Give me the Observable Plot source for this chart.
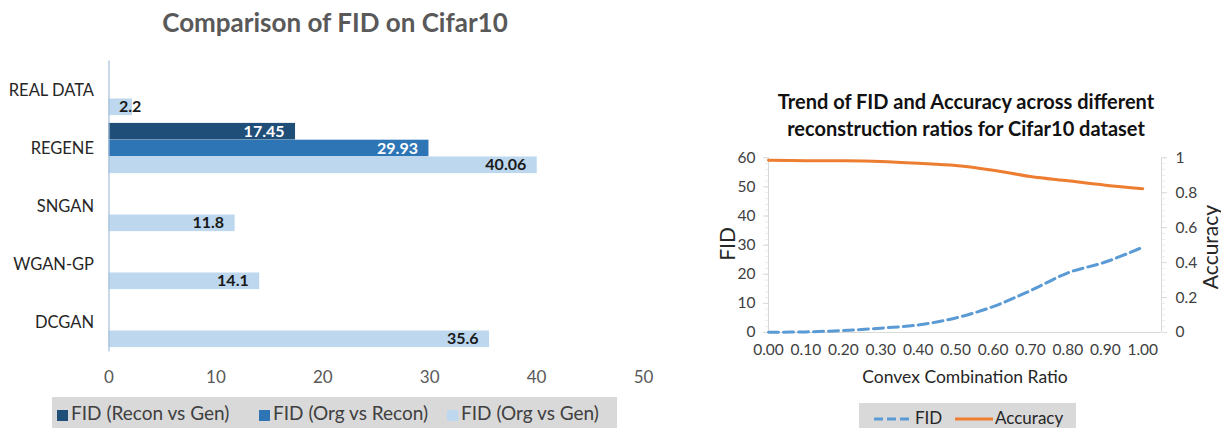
<!DOCTYPE html>
<html><head><meta charset="utf-8">
<script src="https://cdn.jsdelivr.net/npm/d3@7"></script>
<script src="https://cdn.jsdelivr.net/npm/@observablehq/plot@0.6"></script>
<style>
body{margin:0;width:1221px;height:428px;overflow:hidden;background:#fff;font-family:Lato,"Open Sans",sans-serif;position:relative}
.abs{position:absolute;white-space:nowrap}
.sw{display:inline-block;width:11px;height:11px;margin-right:3px;vertical-align:-1px}
</style></head><body>
<div class="abs" style="left:0;width:670px;top:6px;line-height:32px;text-align:center;font-weight:bold;font-size:26px;color:#595959">Comparison of FID on Cifar10</div>
<div id="c1" class="abs" style="left:0;top:0"></div>
<div id="l1" class="abs" style="left:52px;top:397px;width:565px;height:40px;background:#d9d9d9;font-size:19px;color:#404040"></div>

<div class="abs" style="left:760px;width:412px;top:88px;line-height:26.6px;text-align:center;font-weight:bold;font-size:20px;color:#111">Trend of FID and Accuracy across different<br>reconstruction ratios for Cifar10 dataset</div>
<div id="c2" class="abs" style="left:700px;top:140px"></div>
<div class="abs" style="left:726px;top:244px;width:0;height:0"><div style="position:absolute;transform:translate(-50%,-50%) rotate(-90deg);font-size:21px;color:#262626">FID</div></div>
<div class="abs" style="left:1209px;top:247px;width:0;height:0"><div style="position:absolute;transform:translate(-50%,-50%) rotate(-90deg);font-size:21px;color:#262626">Accuracy</div></div>
<div class="abs" style="left:765px;width:400px;top:366px;line-height:22px;text-align:center;font-size:17.5px;color:#262626">Convex Combination Ratio</div>
<div id="l2" class="abs" style="left:859px;top:403px;width:217px;height:40px;background:#d9d9d9;font-size:17px;color:#262626"></div>

<script>
// ---------- Left chart data ----------
const categories = ["REAL DATA", "REGENE", "SNGAN", "WGAN-GP", "DCGAN"];
const seriesNames = ["FID (Recon vs Gen)", "FID (Org vs Recon)", "FID (Org vs Gen)"];
const reconVsGen = [null, 17.45, null, null, null];
const orgVsRecon = [null, 29.93, null, null, null];
const orgVsGen = [2.2, 40.06, 11.8, 14.1, 35.6];
const barColors = ["#1f4e79", "#2e75b6", "#bdd7ee"];
const barTicks = [0, 10, 20, 30, 40, 50];

// ---------- Right chart data ----------
const ratios = [0.0, 0.1, 0.2, 0.3, 0.4, 0.5, 0.6, 0.7, 0.8, 0.9, 1.0];
const fid = [0.1, 0.2, 0.7, 1.5, 2.6, 5.0, 8.9, 14.4, 20.5, 24.2, 29.3];
const accuracy = [0.986, 0.983, 0.983, 0.979, 0.969, 0.956, 0.929, 0.893, 0.868, 0.843, 0.823];
const ratioTicks = [0.0, 0.1, 0.2, 0.3, 0.4, 0.5, 0.6, 0.7, 0.8, 0.9, 1.0];
const fidTicks = [0, 10, 20, 30, 40, 50, 60];
const accTicks = [0, 0.2, 0.4, 0.6, 0.8, 1];
const lineColors = {fid: "#5b9bd5", acc: "#ed7d31"};

// ---------- Left chart ----------
const seriesArrays = [reconVsGen, orgVsRecon, orgVsGen];
const rows = [];
categories.forEach((c, i) => seriesArrays.forEach((arr, k) => {
  if (arr[i] != null) rows.push({cat: c, series: k, value: arr[i]});
}));
const band = 58.2, barH = 16.8, inset = (band - 3 * barH) / 2;
const marks1 = [];
seriesArrays.forEach((arr, k) => {
  const sub = rows.filter(d => d.series === k);
  marks1.push(Plot.barX(sub, {x: "value", y: "cat", fill: barColors[k],
    insetTop: inset + k * barH, insetBottom: inset + (2 - k) * barH}));
  const dy = (k - 1) * barH;
  const col = k < 2 ? "#ffffff" : "#1a1a1a";
  marks1.push(Plot.text(sub.filter(d => d.value >= 5), {x: "value", y: "cat", text: d => String(d.value),
    textAnchor: "end", dx: -11, dy, fill: col, fontWeight: "bold", fontSize: 16}));
  marks1.push(Plot.text(sub.filter(d => d.value < 5), {x: 0, y: "cat", text: d => String(d.value),
    textAnchor: "start", dx: 10, dy, fill: col, fontWeight: "bold", fontSize: 16}));
});
marks1.push(Plot.ruleX([0], {stroke: "#a6bedb", strokeWidth: 1.2}));
marks1.push(Plot.axisY({label: null, tickSize: 0, tickPadding: 15, fill: "#262626", fontSize: 16.5}));
marks1.push(Plot.axisX({label: null, ticks: barTicks, tickSize: 0, tickPadding: 19, fill: "#595959", fontSize: 17}));

const chart1 = Plot.plot({
  width: 660, height: 395,
  marginLeft: 108.5, marginRight: 17, marginTop: 60.6, marginBottom: 43.4,
  x: {domain: [0, 50], axis: null, label: null},
  y: {domain: categories, padding: 0, axis: null, label: null},
  style: {fontFamily: "Lato, 'Open Sans', sans-serif", background: "transparent", overflow: "visible"},
  marks: marks1
});
document.getElementById("c1").appendChild(chart1);

// left legend
const l1 = document.getElementById("l1");
const legPos = [5, 207, 395];
seriesNames.forEach((n, k) => {
  const d = document.createElement("div");
  d.className = "abs";
  d.style.left = legPos[k] + "px"; d.style.top = "4px"; d.style.lineHeight = "24px";
  d.innerHTML = `<span class="sw" style="background:${barColors[k]}"></span>${n}`;
  l1.appendChild(d);
});

// ---------- Right chart ----------
const lineRows = ratios.map((r, i) => ({r, fid: fid[i], acc: accuracy[i]}));
const accToFid = a => a * 60;
const chart2 = Plot.plot({
  width: 521, height: 260,
  marginLeft: 68, marginRight: 60, marginTop: 17.3, marginBottom: 68,
  x: {domain: [0, 1.05], axis: null, label: null},
  y: {domain: [0, 60], axis: null, label: null},
  style: {fontFamily: "Lato, 'Open Sans', sans-serif", background: "transparent", overflow: "visible"},
  marks: [
    Plot.axisY({label: null, ticks: d3.range(0, 61, 2), tickSize: 3, text: null, stroke: "#ececec", anchor: "left"}),
    Plot.axisY({label: null, ticks: d3.range(0, 61, 2), tickSize: 3, text: null, stroke: "#ececec", anchor: "right"}),
    Plot.ruleX([0], {stroke: "#d9d9d9"}),
    Plot.ruleX([1.05], {stroke: "#d9d9d9"}),
    Plot.ruleY([0], {stroke: "#d9d9d9"}),
    Plot.axisY({label: null, ticks: fidTicks, anchor: "left", tickSize: 5, tickPadding: 8, stroke: "#d9d9d9", fill: "#404040", fontSize: 15.5}),
    Plot.axisY({label: null, ticks: accTicks.map(accToFid), anchor: "right", tickFormat: v => String(+(v / 60).toFixed(1)),
      tickSize: 5, tickPadding: 9, stroke: "#d9d9d9", fill: "#404040", fontSize: 15.5}),
    Plot.axisX({label: null, ticks: ratioTicks, tickFormat: d3.format(".2f"), tickSize: 0, tickPadding: 11, fill: "#404040", fontSize: 15.5}),
    Plot.line(lineRows, {x: "r", y: d => accToFid(d.acc), stroke: lineColors.acc, strokeWidth: 3, curve: "catmull-rom"}),
    Plot.line(lineRows, {x: "r", y: "fid", stroke: lineColors.fid, strokeWidth: 3, strokeDasharray: "10,5", curve: "catmull-rom"})
  ]
});
document.getElementById("c2").appendChild(chart2);

// right legend
document.getElementById("l2").innerHTML =
  `<svg class="abs" style="left:14px;top:13px" width="40" height="6"><line x1="1" y1="3" x2="39" y2="3" stroke="${lineColors.fid}" stroke-width="3" stroke-dasharray="9,4"/></svg>` +
  `<div class="abs" style="left:56px;top:4px;line-height:22px">FID</div>` +
  `<svg class="abs" style="left:95px;top:13px" width="40" height="6"><line x1="1" y1="3" x2="39" y2="3" stroke="${lineColors.acc}" stroke-width="3"/></svg>` +
  `<div class="abs" style="left:136px;top:4px;line-height:22px">Accuracy</div>`;
</script>
</body></html>
